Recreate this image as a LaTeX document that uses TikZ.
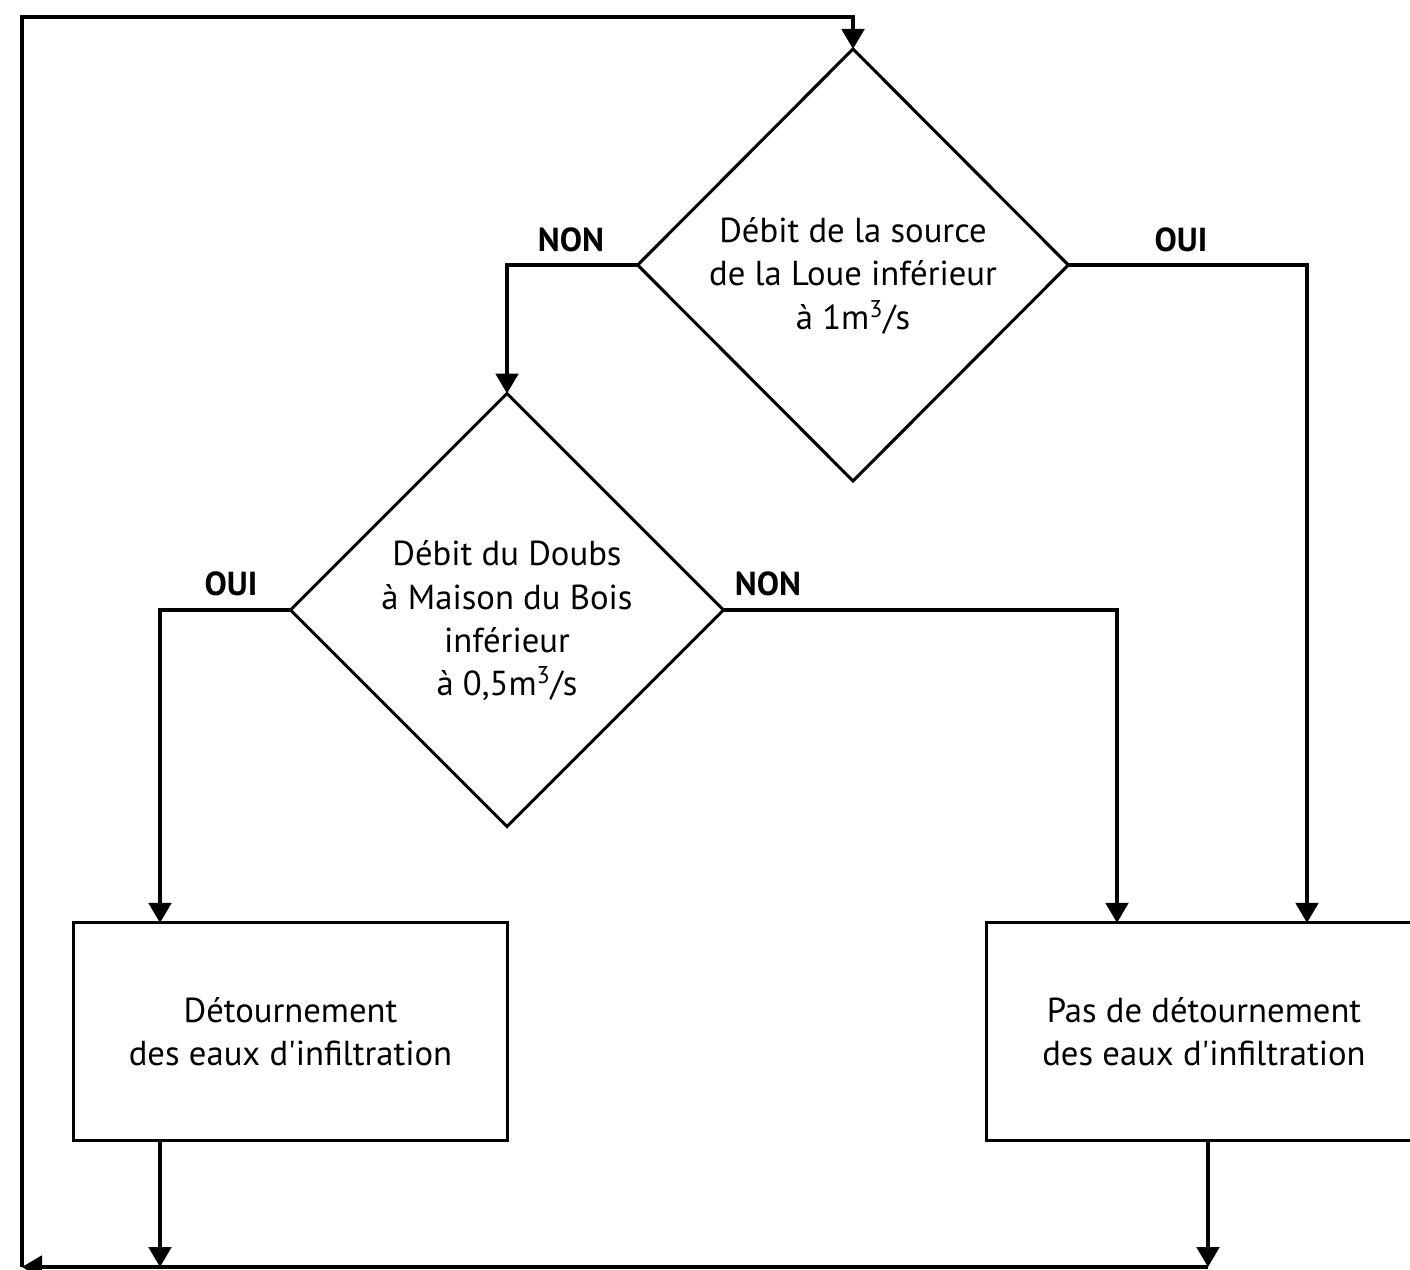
\documentclass[tikz,border=0pt]{standalone}
\usepackage{fontspec}
\setmainfont{PT Sans}
\usetikzlibrary{shapes.geometric,arrows.meta}
\begin{document}
\begin{tikzpicture}[x=0.75pt,y=-0.75pt,
  line width=2.3pt,
  every node/.style={font=\fontsize{26}{32.5}\selectfont},
  dec/.style={draw,diamond,inner sep=0pt,outer sep=0pt,minimum width=323pt,minimum height=324pt,align=center},
  act/.style={draw,rectangle,inner sep=0pt,outer sep=0pt,minimum width=326pt,minimum height=163pt,align=center},
  lbl/.style={font=\fontsize{25}{30}\bfseries\selectfont},
  arr/.style={-{Triangle[length=15pt,width=17pt]}}]
\useasboundingbox (0,0) rectangle (1410,1270);
\clip (0,0) rectangle (1410,1270);
\node[dec] (d1) at (853,265) {\rule{0pt}{35pt}Débit de la source\\de la Loue inférieur\\à 1m\textsuperscript{3}/s};
\node[dec] (d2) at (507,610) {\rule{0pt}{35pt}Débit du Doubs\\à Maison du Bois\\inférieur\\à 0,5m\textsuperscript{3}/s};
\node[act] (b1) at (290.5,1031.5) {Détournement\\des eaux d\textquotesingle infiltration};
\node[act] (b2) at (1204,1031.5) {Pas de détournement\\des eaux d\textquotesingle infiltration};
\coordinate (bl) at (22,1267);
\coordinate (tl) at (22,17);
\node[lbl] (n1) at (571,240) {NON};
\node[lbl] (o1) at (1181,240) {OUI};
\node[lbl] (o2) at (231,584) {OUI};
\node[lbl] (n2) at (768,584) {NON};
\draw[arr] (d1.west) -| (d2.north);
\draw[arr] (d1.east) -| (b2.north -| 1307,0);
\draw[arr] (d2.west) -| (b1.north -| 160,0);
\draw[arr] (d2.east) -| (b2.north -| 1117,0);
\draw[arr] (b1.south -| 160,0) -- (bl -| 160,0);
\draw[arr] (b2.south -| 1208,0) -- (bl -| 1208,0);
\draw[arr] (bl -| 1208,0) -- (bl);
\draw[arr] (bl) -- (tl) -| (d1.north);
\end{tikzpicture}
\end{document}
